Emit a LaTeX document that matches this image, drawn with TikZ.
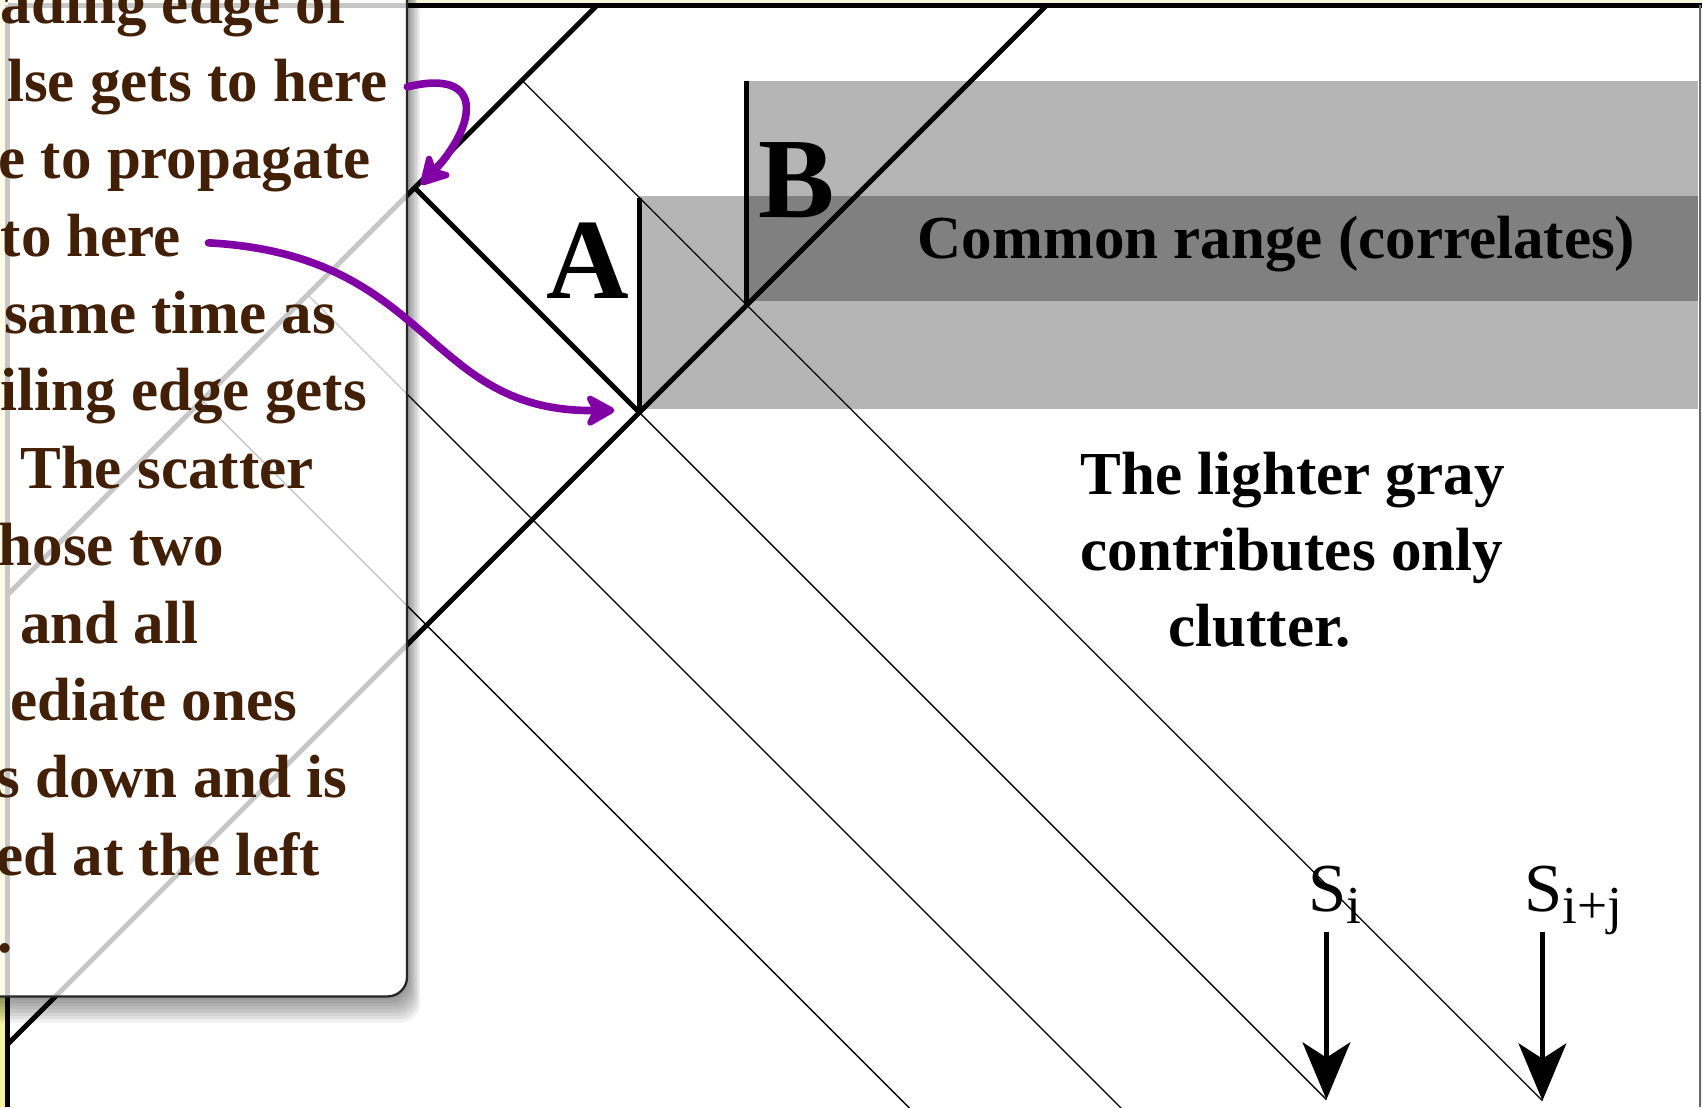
\documentclass[tikz,border=0pt]{standalone}
\usepackage{fontspec}
\setmainfont{Liberation Serif}
\usetikzlibrary{arrows.meta}
\definecolor{notebrown}{RGB}{66,32,8}
\definecolor{notepurple}{RGB}{128,0,165}
\definecolor{pagebg}{RGB}{245,245,218}
\definecolor{pagestrip}{RGB}{244,244,158}
\newcommand{\lowsub}[1]{\raisebox{-3pt}{\fontsize{14}{14}\selectfont #1}}
\tikzset{
  edge/.style={line width=1.3pt},
  ray/.style={line width=0.35pt},
  band/.style={fill=black,fill opacity=0.29},
  note/.style={draw=black!85,line width=0.6pt,fill=white,fill opacity=0.78,rounded corners=1.8mm},
  notetext/.style={text=notebrown,font=\fontsize{16}{20}\selectfont\bfseries,inner sep=0pt,anchor=base west},
  tag/.style={font=\fontsize{16}{20}\selectfont\bfseries,inner sep=0pt},
  big/.style={font=\fontsize{30}{30}\selectfont\bfseries,inner sep=0pt,anchor=base},
  stag/.style={font=\fontsize{18}{18}\selectfont,inner sep=2pt,text depth=3pt,anchor=base west},
  pointto/.style={notepurple,line width=2pt,line cap=round,-{Stealth[round,length=9pt,width=10pt,inset=2.5pt]}},
  sarrow/.style={line width=1.3pt,-{Stealth[length=15pt,width=12.5pt,inset=4pt]}}
}
\begin{document}
\begin{tikzpicture}[x=0.1mm,y=-0.1mm]
\useasboundingbox (0,0) rectangle (1568,1020);
\clip (0,0) rectangle (1568,1020);
% page and frame
\fill[pagebg] (0,0) rectangle (1568,1020);
\fill[pagestrip] (0,0) rectangle (7,1020);
\fill[white] (7,5) rectangle (1566,1020);
\draw[line width=1.3pt] (7,5) -- (1568,5);
\draw[line width=1.3pt] (7,5) -- (7,1020);
\draw[black!58,line width=0.45pt] (1566,5) -- (1566,1020);
% gray ranges
\fill[band] (589,181) rectangle (1564,377);
\fill[band] (688,75) rectangle (1564,277);
% points
\coordinate (ja) at (382,173);
\coordinate (abot) at (589,380);
\coordinate (atop) at (589,182);
\coordinate (btop) at (688,75);
\coordinate (bbot) at (688,281);
\coordinate (sitip) at (1222,1013);
\coordinate (sjtip) at (1421,1014);
\coordinate (tipa) at (388,170);
\coordinate (tipb) at (566,378);
% thin rays
\draw[ray] (481,74) -- (sjtip);
\draw[ray] (abot) -- (sitip);
\draw[ray] (283.5,271.5) -- (1052,1040);
\draw[ray] (186,369) -- (857,1040);
% thick edges
\draw[edge] (550,5) -- (7,548);
\draw[edge] (964,5) -- (7,962);
\draw[edge] (ja) -- (abot);
\draw[edge] (atop) -- (abot);
\draw[edge] (btop) -- (bbot);
% labels
\node[big] (alab) at (542,275) {A};
\node[big] (blab) at (734,200) {B};
\node[tag,anchor=base] (common) at (1176,238) {Common range (correlates)};
\node[tag,anchor=base west,align=left] (clutter) at (995,596) {The lighter gray\\contributes only\\\hspace*{23pt}clutter.};
\node[stag] (si) at (1198,840) {S\lowsub{i}};
\node[stag] (sj) at (1397,840) {S\lowsub{i+j}};
\draw[sarrow] (si.south -| sitip) -- (sitip);
\draw[sarrow] (sj.south -| sjtip) -- (sjtip);
% callout
\foreach \s in {1,...,8}
  \fill[black,fill opacity=0.06,even odd rule,rounded corners=1.8mm]
    (-30+1.5*\s,-30+3*\s) rectangle (375+1.5*\s,918+3*\s) (-30,-30) rectangle (375,918);
\draw[note] (-30,-30) rectangle (375,918);
\foreach \dx/\txt [count=\i] in {0/ading edge of, 6/lse gets to here, -2/e to propagate,
    0/to here, 3/same time as, 0/iling edge gets, 18/The scatter, -2/hose two,
    18/and all, 9/ediate ones, -4/s down and is, -4/ed at the left, -3/.}
  \node[notetext] (ln\i) at (\dx,{22+71.3*(\i-1)}) {\txt};
\draw[pointto] ([xshift=5pt]ln2.east) .. controls (450,62) and (437,118) .. (tipa);
\draw[pointto] ([xshift=7pt,yshift=-2pt]ln4.east) .. controls (400,235) and (390,380) .. (tipb);
\end{tikzpicture}
\end{document}
